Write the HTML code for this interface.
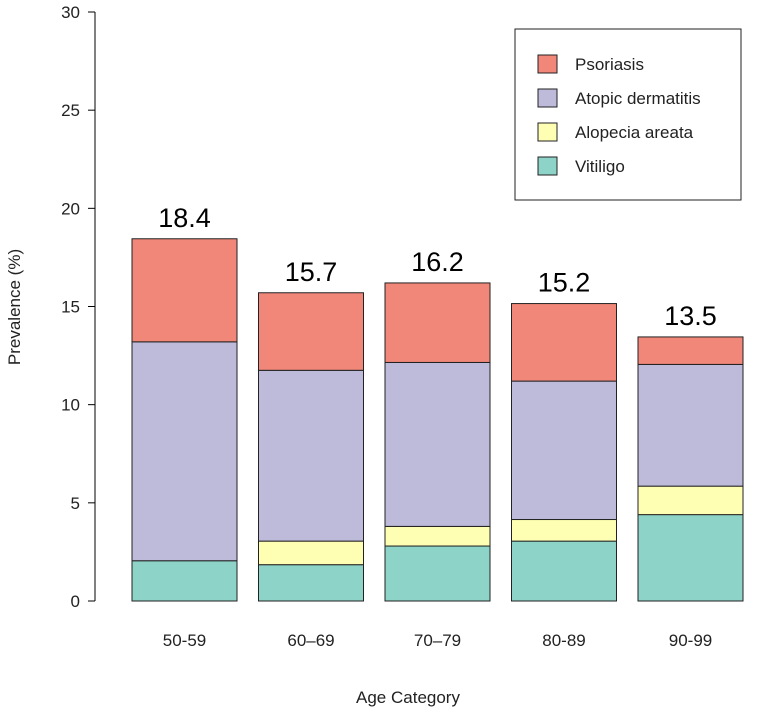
<!DOCTYPE html>
<html><head><meta charset="utf-8"><style>
body{margin:0;background:#fff;font-family:"Liberation Sans",sans-serif}
svg text{font-family:"Liberation Sans",sans-serif}
</style></head><body>
<svg id="chart" width="759" height="716"></svg>
<script>
const categories=["50-59","60–69","70–79","80-89","90-99"];
const vitiligo=[2.05,1.85,2.8,3.05,4.4];
const alopecia=[0,1.2,1.0,1.1,1.45];
const atopic=[11.15,8.7,8.35,7.05,6.2];
const psoriasis=[5.25,3.95,4.05,3.95,1.4];
const totals=["18.4","15.7","16.2","15.2","13.5"];
const yTicks=[0,5,10,15,20,25,30];
const NS="http://www.w3.org/2000/svg";
const svg=document.getElementById('chart');
function mk(t,a,p){const e=document.createElementNS(NS,t);for(const k in a)e.setAttribute(k,a[k]);(p||svg).appendChild(e);return e;}
const y0=601,y1=12,yMax=30;
const y=v=>y0-(y0-y1)*v/yMax;
const x=i=>132+i*126.5;
const bw=105;
// y axis
const ax=mk('g',{});


mk('line',{x1:95,x2:95,y1:y(0),y2:y(30),stroke:'#000','stroke-width':1},ax);
yTicks.forEach(t=>{
  mk('line',{x1:88,x2:95,y1:y(t),y2:y(t),stroke:'#000'},ax);
  const tx=mk('text',{x:80,y:y(t)+6,'text-anchor':'end','font-size':17,fill:'#222'},ax);
  tx.textContent=t;
  
  
});
const yt=mk('text',{x:0,y:0,transform:'translate(20,307) rotate(-90)','text-anchor':'middle','font-size':17,fill:'#222'});
yt.textContent='Prevalence (%)';


const xt=mk('text',{x:408,y:703,'text-anchor':'middle','font-size':17,fill:'#222'});
xt.textContent='Age Category';


const series=[["vitiligo",vitiligo,"#8DD3C7"],["alopecia",alopecia,"#FFFFB3"],["atopic",atopic,"#BEBADA"],["psoriasis",psoriasis,"#F08778"]];
categories.forEach((c,i)=>{
  let base=0;
  series.forEach(([n,arr,col])=>{
    const v=arr[i];
    const r=mk('rect',{x:x(i),y:y(base+v),width:bw,height:y(base)-y(base+v),fill:col,stroke:'#222','stroke-width':1});
    
    
    base+=v;
  });
  const tl=mk('text',{x:x(i)+bw/2,y:y(base)-12,'text-anchor':'middle','font-size':27,fill:'#000'});
  tl.textContent=totals[i];
  
  
  const xl=mk('text',{x:x(i)+bw/2,y:646,'text-anchor':'middle','font-size':17,fill:'#222'});
  xl.textContent=c;
  
  
});
const lg=mk('g',{});


mk('rect',{x:515,y:29,width:226,height:171,fill:'#fff',stroke:'#222'},lg);
[["Psoriasis","#F08778"],["Atopic dermatitis","#BEBADA"],["Alopecia areata","#FFFFB3"],["Vitiligo","#8DD3C7"]].forEach(([n,col],k)=>{
  const cy=64+k*34;
  const g=mk('g',{},lg);
  
  
  mk('rect',{x:538,y:cy-9,width:19,height:18,fill:col,stroke:'#222'},g);
  const t=mk('text',{x:575,y:cy+6,'font-size':17,fill:'#222'},g);
  t.textContent=n;
});
</script>
</body></html>
